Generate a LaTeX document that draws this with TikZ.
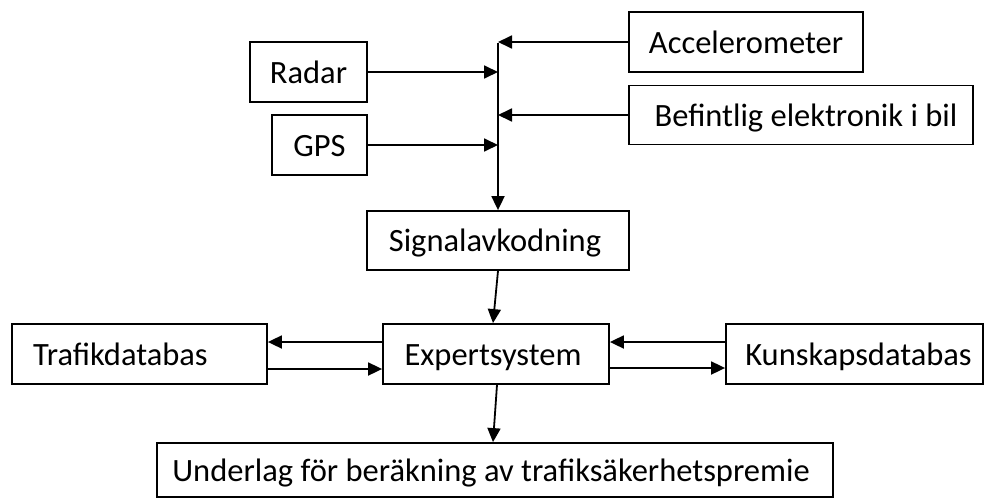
\documentclass[tikz,border=0pt]{standalone}
\usepackage{fontspec}
\setmainfont{Carlito}
\usepackage{tikz}
\usetikzlibrary{arrows.meta}

\begin{document}
\begin{tikzpicture}[x=1pt, y=-1pt,
  box/.style={draw, line width=1.8pt, minimum height=60pt, inner sep=0pt, text height=22pt, text depth=0pt, font=\fontsize{32.5}{38}\selectfont},
  flow/.style={-{Triangle[length=14pt,width=13pt]}, line width=1.8pt}]
\useasboundingbox (0,0) rectangle (986,498);
% sensors
\node[box, minimum width=117pt] (radar) at (308.5,72) {Radar};
\node[box, minimum width=95pt] (gps) at (319.5,145) {GPS};
\node[box, minimum width=234pt] (accel) at (746,42) {Accelerometer};
\node[box, minimum width=344pt, minimum height=59pt] (elektronik) at (801,115) {\hspace*{10pt}Befintlig elektronik i bil};
\coordinate (bus) at (498,43);
% processing chain
\node[box, minimum width=262pt, minimum height=59pt] (signal) at (498,240.5) {Signalavkodning\hspace*{6pt}};
\node[box, minimum width=226pt] (expert) at (496,354) {Expertsystem\hspace*{6pt}};
\node[box, minimum width=255pt, text width=213pt, align=left] (trafik) at (139.5,354) {Trafikdatabas};
\node[box, minimum width=257pt] (kunskap) at (854.5,354) {\hspace*{8pt}Kunskapsdatabas};
\node[box, minimum width=676pt, minimum height=54pt] (underlag) at (495,470) {Underlag för beräkning av trafiksäkerhetspremie\hspace*{8pt}};

\draw[flow] (bus) -- (signal.north);
\draw[flow] (accel.west) -- (accel.west -| bus);
\draw[flow] (elektronik.west) -- (elektronik.west -| bus);
\draw[flow] (radar.east) -- (radar.east -| bus);
\draw[flow] (gps.east) -- (gps.east -| bus);
\draw[flow] (signal.south) -- ([xshift=-3pt]expert.north);
\draw[flow] ([yshift=12pt]expert.west) -- ([yshift=12pt]trafik.east);
\draw[flow] ([yshift=-15pt]trafik.east) -- ([yshift=-15pt]expert.west);
\draw[flow] ([yshift=12pt]kunskap.west) -- ([yshift=12pt]expert.east);
\draw[flow] ([yshift=-14pt]expert.east) -- ([yshift=-14pt]kunskap.west);
\draw[flow] ([xshift=1pt]expert.south) -- ([xshift=-2pt]underlag.north);
\end{tikzpicture}
\end{document}
